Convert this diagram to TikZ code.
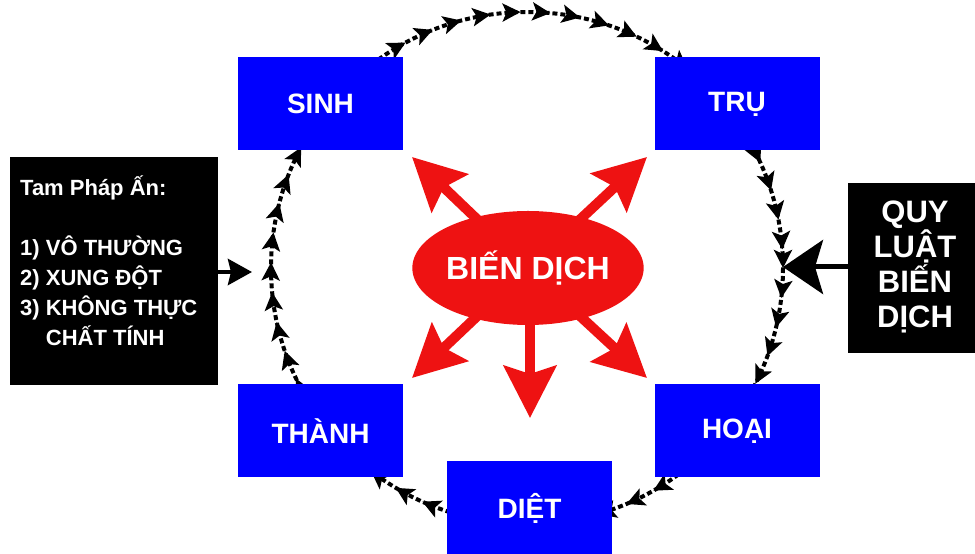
\documentclass[tikz,border=0pt]{standalone}
\usepackage{fontspec}
\setmainfont{Liberation Sans}
\usetikzlibrary{arrows.meta,decorations.markings,shapes.geometric}
\definecolor{stageblue}{RGB}{0,0,255}
\definecolor{burstred}{RGB}{238,18,18}
\begin{document}
\begin{tikzpicture}[x=1pt,y=1pt,
  stage/.style={fill=stageblue, minimum width=165pt, minimum height=93pt, inner sep=0pt,
    text=white, font=\fontsize{28}{32}\selectfont\bfseries},
  infobox/.style={fill=black, inner sep=0pt},
  infotext/.style={text=white, inner sep=0pt, font=\bfseries},
  cyclepath/.style={line width=4pt, dash pattern=on 5pt off 3pt,
    postaction={solid, decorate, decoration={markings,
      mark=between positions 0 and 1 step 30pt with {\arrow{Stealth[length=18pt,width=18pt,inset=4pt]}}}}},
  burst/.style={draw=burstred, line width=10pt, -{Stealth[length=52pt,width=52pt,inset=8pt]}},
  leftpush/.style={line width=4.5pt, -{Stealth[length=24pt,width=26pt,inset=3pt]}},
  rightpush/.style={line width=5pt, -{Stealth[length=40pt,width=54pt,inset=8pt]}}
]
\useasboundingbox (0,0) rectangle (975,554);

% cycle loop (clockwise)
\draw[cyclepath] (783,286) arc[start angle=0, end angle=-360, radius=256];

% red bursts
\coordinate (tipUL) at (412,397);
\coordinate (tipUR) at (647,397);
\coordinate (tipLL) at (412,176);
\coordinate (tipLR) at (647,176);
\coordinate (tipD)  at (530,136);
\coordinate (bdc) at (528,286);
\draw[burst] (bdc) -- (tipUL);
\draw[burst] (bdc) -- (tipUR);
\draw[burst] (bdc) -- (tipLL);
\draw[burst] (bdc) -- (tipLR);
\draw[burst] (bdc -| tipD) -- (tipD);

\node[ellipse, fill=burstred, minimum width=226pt, minimum height=114pt, inner sep=0pt,
  text=white, font=\fontsize{32}{36}\selectfont\bfseries] (bd) at (bdc) {BIẾN DỊCH};

% stages
\node[stage] (sinh)  at (320.5,450) {SINH};
\node[stage] (tru)   at (737,450)   {TRỤ};
\node[stage] (thanh) at (320.5,123) {THÀNH};
\node[stage] (hoai)  at (737,123)   {HOẠI};
\node[stage] (diet)  at (529.5,46)  {DIỆT};

% left info box
\node[infobox, minimum width=208pt, minimum height=228pt] (tpa) at (114,283) {};
\node[infotext, anchor=west, align=left, font=\fontsize{22}{30}\selectfont\bfseries] (tpatext) at (20,291)
  {Tam Pháp Ấn:\\[30pt]1) VÔ THƯỜNG\\2) XUNG ĐỘT\\3) KHÔNG THỰC\\\phantom{3) }CHẤT TÍNH};

% right info box
\node[infobox, minimum width=134pt, minimum height=170pt] (qlbd) at (915,286) {};
\node[infotext, align=center, font=\fontsize{31}{35}\selectfont\bfseries] (qlbdtext) at (915,287)
  {QUY\\LUẬT\\BIẾN\\DỊCH};

% pushing arrows
\coordinate (lefttip) at (252,282);
\coordinate (righttip) at (783,287);
\draw[leftpush] (tpa.east |- lefttip) -- (lefttip);
\draw[rightpush] (qlbd.west |- righttip) -- (righttip);
\end{tikzpicture}
\end{document}
